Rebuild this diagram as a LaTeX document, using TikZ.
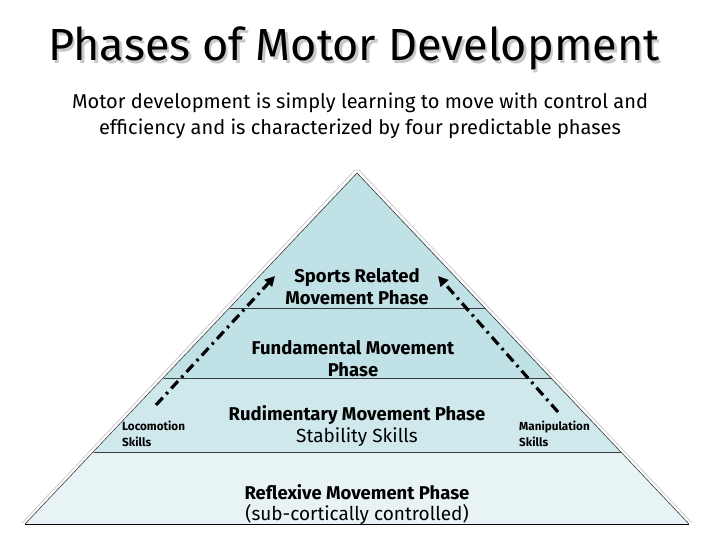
\documentclass[tikz,border=0pt]{standalone}
\usepackage{fontspec}
\setmainfont{Fira Sans}
\usetikzlibrary{arrows.meta}
\definecolor{topblue}{RGB}{192,225,229}
\definecolor{midblue}{RGB}{206,232,235}
\definecolor{lowblue}{RGB}{231,243,245}
\definecolor{edgegray}{RGB}{60,60,60}
\definecolor{shadowgray}{RGB}{200,200,200}
\tikzset{
  lbl/.style={inner sep=0pt, font=\fontsize{18.5}{22}\selectfont\bfseries, align=center},
  sublbl/.style={inner sep=0pt, font=\fontsize{19}{22}\selectfont, align=center},
  side/.style={inner sep=0pt, font=\fontsize{11.7}{15.5}\selectfont\bfseries, align=left, anchor=north west},
  skill/.style={line width=3.2pt, dash pattern=on 10pt off 5pt on 2.5pt off 5pt, -{Triangle[length=10pt,width=10pt]}},
  band/.style={draw=edgegray, line width=0.6pt}
}
\newcommand{\shadowtext}[1]{\makebox[0pt][l]{\hspace{2.5pt}\raisebox{-2.5pt}{\color{shadowgray}#1}}#1}
\begin{document}
\begin{tikzpicture}[x=1pt,y=-1pt]
\useasboundingbox (0,0) rectangle (720,540);
% pyramid bands
\coordinate (apex) at (357,173);
\fill[topblue] (apex) -- (163.7,378) -- (551.9,378) -- cycle;
\fill[midblue] (163.7,378) -- (94,452) -- (621,452) -- (551.9,378) -- cycle;
\fill[lowblue] (94,452) -- (25,524) -- (689,524) -- (621,452) -- cycle;
% outline
\draw[edgegray, line width=0.6pt] (25,524) -- (apex) -- (689,524);
\draw[gray!40, line width=0.8pt] (22,523) -- (355,170) -- (359,170) -- (692,523);
\draw[band] (229.7,308) -- (484.5,308);
\draw[band] (163.7,378) -- (551.9,378);
\draw[band] (94,452) -- (621,452);
\draw[line width=0.9pt] (25,524) -- (689,524);
% title
\node (title) [font=\fontsize{45}{50}\selectfont, inner sep=0pt] at (354,50) {\shadowtext{Phases of Motor Development}};
\node (sub) [font=\fontsize{20}{26}\selectfont, align=center, inner sep=0pt] at (360,116) {Motor development is simply learning to move with control and\\efficiency and is characterized by four predictable phases};
% phase labels
\node (sports) [lbl] at (357,287) {Sports Related\\Movement Phase};
\node (fund) [lbl] at (353,359) {Fundamental Movement\\Phase};
\node (rud) [lbl] at (357,415) {Rudimentary Movement Phase};
\node (stab) [sublbl] at (357,437) {Stability Skills};
\node (refl) [lbl] at (357,492) {Reflexive Movement Phase};
\node (sub2) [sublbl] at (357,514) {(sub-cortically controlled)};
\node (loco) [side] at (122,421) {Locomotion\\Skills};
\node (mani) [side] at (519,421) {Manipulation\\Skills};
% arrows
\coordinate (lstart) at (156,405);
\coordinate (lend) at (275,276);
\coordinate (rstart) at (558,412);
\coordinate (rend) at (438,276);
\draw[skill] (lstart) -- (lend);
\draw[skill] (rstart) -- (rend);
\end{tikzpicture}
\end{document}
